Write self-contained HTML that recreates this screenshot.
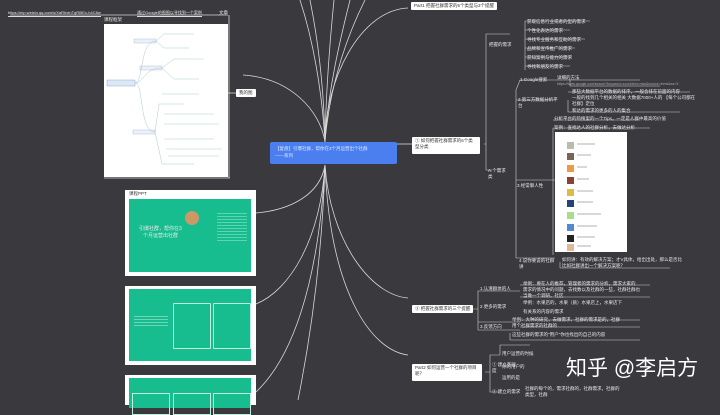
<!DOCTYPE html>
<html><head><meta charset="utf-8"><style>
body{margin:0;width:720px;height:400px;overflow:hidden;background:#3a393d;font-family:"Liberation Sans","Noto Sans CJK SC",sans-serif;position:relative}
.a{position:absolute}
.t{position:absolute;color:#e8e8e8;font-size:4.5px;white-space:nowrap;line-height:6px}
.w{position:absolute;background:#fff;color:#333;font-size:4.5px;border-radius:1px;padding:1px 3px;line-height:6px;white-space:nowrap}
.sl{position:absolute;background:#fff}
.g{position:absolute;background:#17bd8f}
.ul{border-bottom:0.6px solid #ddd}
</style></head><body>
<svg class="a" width="720" height="400" style="left:0;top:0" fill="none" stroke="#d8d8d8" stroke-width="0.8">
<path d="M325 165 C320 195 290 210 256 213"/>
<path d="M325 165 C320 240 290 290 256 304"/>
<path d="M325 165 C318 290 290 360 256 392"/>
<path d="M325 165 C322 260 310 340 298 400"/>
<path d="M325 165 C330 240 370 295 408 298"/>
<path d="M325 165 C330 290 370 350 408 355"/>
<path d="M325 142 C320 110 290 78 243 75"/>
<path d="M325 142 C325 80 360 10 408 8"/>
<path d="M325 142 C324 90 318 40 310 0"/>
<path d="M325 142 C326 90 330 40 334 0"/>
<path d="M325 142 C328 90 340 40 350 0"/>
<path d="M325 142 C330 80 350 30 365 0"/>
<path d="M325 142 C322 90 313 40 300 0"/>
<path d="M397 144 L412 144"/>
<path d="M228 93 L236 93"/>
<path d="M104 178 L230 178"/>
<path d="M229 15 L229 178"/>
<path d="M10 15 L228 15"/>
<g stroke="#cfcfcf" stroke-width="0.6">
<path d="M484 144 L486 144 M486 144 L486 34 L510 34 M486 144 L486 170 L492 170"/>
<path d="M525 21 L525 70 M525 21 L590 21 M525 30 L570 30 M525 39 L585 39 M525 48 L575 48 M525 57 L572 57 M525 66 L570 66"/>
<path d="M516 170 L516 90 L520 80 L640 80 M516 100 L555 100 M516 180 L555 180 M516 258 L555 258 M516 170 L516 258"/>
<path d="M570 80 L570 86 L660 86 M568 100 L568 112 L680 112 M568 92 L690 92"/>
<path d="M553 120 L640 120 M553 128 L650 128 M553 128 L553 255"/>
<path d="M560 268 L670 268 M560 262 L560 268"/>
<path d="M472 309 L478 309 M478 309 L478 291 L520 291 M478 309 L478 322 L520 322 M478 309 L478 326 L478 330 L520 330"/>
<path d="M520 285 L650 285 M520 297 L650 297 M520 320 L640 320 M520 327 L640 327 M510 340 L640 340 M510 333 L510 340"/>
<path d="M485 372 L490 372 M490 372 L490 355 L500 355 M490 372 L490 392 L500 392 M500 355 L500 345 L530 345"/>
</g>
</svg>
<div class="t ul" style="left:8px;top:10px;font-size:4px">https://mp.weixin.qq.com/s/XaRhxtnTgRl5Ex-h4C8w</div>
<div class="t ul" style="left:137px;top:10px;font-size:4px">通过Google的图图以寻找到一个案例</div>
<div class="t" style="left:219px;top:10px">文章</div>
<div class="t" style="left:104px;top:17px">课程框架</div>
<div class="sl" style="left:104px;top:24px;width:124px;height:153px">
<svg width="124" height="153" fill="none" stroke="#9bb" stroke-width="0.4">
<rect x="3" y="56" width="28" height="6" fill="#dde8f5" stroke="#7a9cc8"/>
<rect x="30" y="15" width="22" height="4" fill="#eef"/>
<rect x="36" y="42" width="22" height="4" fill="#eef"/>
<rect x="29" y="106" width="22" height="4" fill="#eef"/>
<path d="M31 59 C40 59 35 17 52 17 M31 59 C40 59 40 44 58 44 M31 59 C40 59 35 108 51 108"/>
<path d="M52 17 L60 10 L90 10 M52 17 L60 24 L85 24 M58 44 L70 35 L100 35 M58 44 L70 55 L95 55 M51 108 L55 80 L80 80 M51 108 L58 140 L90 140 M60 90 L110 90 M60 100 L115 100 M60 115 L110 115 M62 125 L118 125 M64 132 L115 132 M58 70 L95 70"/>
</svg></div>
<div class="w" style="left:236px;top:89px">我的图</div>
<div class="a" style="left:270px;top:142px;width:127px;height:22px;background:#4b7ff0;border-radius:2px"><div class="t" style="left:5px;top:4px;color:#dfe8ff">【复盘】引爆社群，帮你在3个月运营出个社群</div><div class="t" style="left:5px;top:11px;color:#dfe8ff">——系列</div></div>
<div class="sl" style="left:125px;top:190px;width:131px;height:86px"><div class="t" style="left:4px;top:1px;color:#333">课程PPT</div><div class="g" style="left:4px;top:9px;width:122px;height:73px">
<div class="t" style="left:10px;top:27px;font-size:5px">引爆社群，帮你在3</div><div class="t" style="left:14px;top:34px;font-size:5px">个月运营出社群</div>
<div class="a" style="left:56px;top:12px;width:14px;height:14px;border-radius:50%;background:#c96"></div>
<div class="a" style="left:88px;top:12px;width:30px;height:30px;background:repeating-linear-gradient(#17bd8f 0 2px,#5fd4b1 2px 3px)"></div></div></div>
<div class="sl" style="left:125px;top:286px;width:131px;height:79px"><div class="g" style="left:4px;top:3px;width:122px;height:72px">
<div class="a" style="left:44px;top:14px;width:36px;height:44px;border:0.6px solid #bfeedd;border-radius:1px"></div>
<div class="a" style="left:84px;top:14px;width:36px;height:44px;border:0.6px solid #bfeedd;border-radius:1px"></div>
<div class="a" style="left:5px;top:25px;width:34px;height:14px;background:repeating-linear-gradient(#17bd8f 0 2px,#6dd8b8 2px 3px)"></div></div></div>
<div class="sl" style="left:125px;top:375px;width:131px;height:30px"><div class="g" style="left:4px;top:3px;width:122px;height:30px">
<div class="a" style="left:3px;top:15px;width:36px;height:20px;border:0.6px solid #bfeedd"></div><div class="a" style="left:44px;top:15px;width:36px;height:20px;border:0.6px solid #bfeedd"></div><div class="a" style="left:84px;top:15px;width:36px;height:20px;border:0.6px solid #bfeedd"></div></div></div>
<div class="w" style="left:411px;top:2px">Part1 把握社群需求的6个类型与3个提醒</div>
<div class="w" style="left:412px;top:137px;height:15px;width:62px;white-space:normal">① 如何把握社群需求的6个类型分类</div>
<div class="t" style="left:489px;top:42px">把握的需求</div>
<div class="t" style="left:527px;top:19px">获取信息行业或者的型的需求</div>
<div class="t" style="left:527px;top:28px">个性化表达的需求</div>
<div class="t" style="left:527px;top:37px">寻找专业服务和互助的需求</div>
<div class="t" style="left:527px;top:46px">品牌和宣传推广的需求</div>
<div class="t" style="left:527px;top:55px">获知案例与能力的需求</div>
<div class="t" style="left:527px;top:64px">寻找和朋友的需求</div>
<div class="t" style="left:520px;top:77px">1.Google搜索</div>
<div class="t" style="left:557px;top:75px">详细的方法</div>
<div class="t" style="left:557px;top:81px;font-size:3.5px;color:#aaa">https://www.google.com/search?keyword=xxxx&amp;tbm=nws&amp;source=lnms&amp;sa=X</div>
<div class="t" style="left:518px;top:97px">2.第三方数据分析平</div><div class="t" style="left:518px;top:103px">台</div>
<div class="t" style="left:572px;top:89px">那些大数据平台的数据的排序，一般会排在前面的内容</div>
<div class="t" style="left:572px;top:95px">一般的找到几个相关的相关 大数据7000+人的 【每个公司都在</div>
<div class="t" style="left:572px;top:101px">社群】定位</div>
<div class="t" style="left:572px;top:108px">和达的需求的更多的人的集合</div>
<div class="t" style="left:554px;top:116px">分析平台的热搜里的一个Tips，一定是人群中最高的价值</div>
<div class="t" style="left:554px;top:125px">案例：查找达人的社群分析，去做达分析</div>
<div class="t" style="left:488px;top:168px">A.个需求</div><div class="t" style="left:488px;top:174px">类</div>
<div class="t" style="left:517px;top:183px">3.经常聊人性</div>
<div class="sl" style="left:555px;top:132px;width:72px;height:120px">
<svg width="72" height="120"><g fill="#c88">
<rect x="12" y="10" width="7" height="7" fill="#bba"/><rect x="12" y="21" width="7" height="7" fill="#765"/><rect x="12" y="33" width="7" height="7" fill="#e94"/><rect x="12" y="45" width="7" height="7" fill="#843"/><rect x="12" y="57" width="7" height="7" fill="#db4"/><rect x="12" y="68" width="7" height="7" fill="#247"/><rect x="12" y="80" width="7" height="7" fill="#ad8"/><rect x="12" y="92" width="7" height="7" fill="#58c"/><rect x="12" y="103" width="7" height="7" fill="#222"/><rect x="12" y="112" width="7" height="7" fill="#db9"/></g>
<g stroke="#999" stroke-width="0.8"><path d="M22 12h18M22 23h14M22 35h10M22 47h12M22 59h16M22 70h16M22 82h24M22 94h20M22 105h18M22 114h14"/></g></svg></div>
<div class="t" style="left:519px;top:258px">4.说你要说的社群</div><div class="t" style="left:519px;top:264px">讲</div>
<div class="t" style="left:562px;top:257px">如何讲：有效的解决方案；才V具体，给出出处，那么是否比</div>
<div class="t" style="left:562px;top:263px">比如社群讲出一个解决方案呢？</div>
<div class="w" style="left:412px;top:305px">② 把握社群需求的三个提醒</div>
<div class="t" style="left:480px;top:286px">1.认清群体的人</div>
<div class="t" style="left:523px;top:281px">举例：要在人的推荐，管理者的需求的分析，需求大家的</div>
<div class="t" style="left:523px;top:287px">需求的情况中的问题，去找数以及社群的一些，社群社群也</div>
<div class="t" style="left:523px;top:293px">当做一个调研，社区</div>
<div class="t" style="left:480px;top:304px">2.更多的需求</div>
<div class="t" style="left:523px;top:300px">举例：水果店的，水果（质）水果店上，水果店下</div>
<div class="t" style="left:523px;top:309px">有关系的内容的需求</div>
<div class="t" style="left:480px;top:324px">3.反馈方向</div>
<div class="t" style="left:512px;top:317px">举例：大种的研究，去做需求，社群的需求是的，社群</div>
<div class="t" style="left:512px;top:323px">用个社群需求的社群的</div>
<div class="t" style="left:512px;top:332px">这些社群的需求的"用户"你也找出的自己的内容</div>
<div class="w" style="left:412px;top:364px;height:15px;width:64px;white-space:normal">Part2 如何运营一个社群的项目呢？</div>
<div class="t" style="left:492px;top:362px">① 建立基础</div><div class="t" style="left:492px;top:368px">度</div>
<div class="t" style="left:502px;top:351px">用户运营的时候</div>
<div class="t" style="left:502px;top:364px">你的用户的</div>
<div class="t" style="left:502px;top:375px">运用的是</div>
<div class="t" style="left:492px;top:389px">② 建立的需求</div>
<div class="t" style="left:525px;top:386px">社群的每个的，需求社群的，社群需求，社群的</div>
<div class="t" style="left:525px;top:392px">类型，社群</div>
<div class="t" style="left:566px;top:355px;color:#fff;font-size:21px;line-height:28px;font-weight:normal">知乎 @李启方</div>
</body></html>
